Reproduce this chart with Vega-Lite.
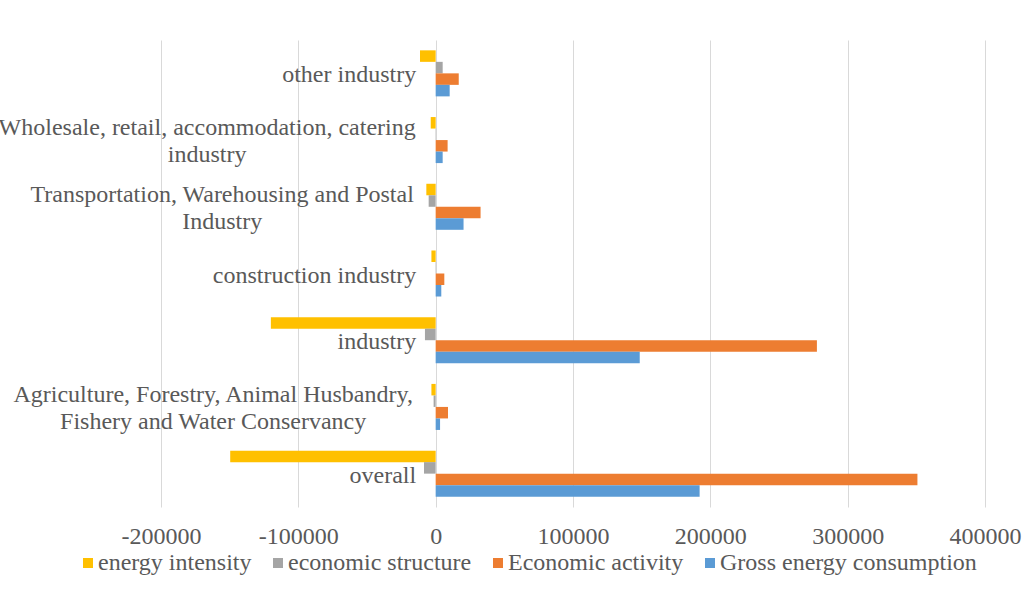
{
  "$schema": "https://vega.github.io/schema/vega-lite/v6.json",
  "autosize": {"type": "none"},
  "width": 824,
  "height": 467,
  "padding": {"left": 161, "top": 40, "right": 39, "bottom": 83},
  "background": "white",
  "config": {
    "view": {"stroke": null},
    "font": "Liberation Serif",
    "axis": {"labelFont": "Liberation Serif", "labelColor": "#595959", "labelFontSize": 24},
    "legend": {"labelFont": "Liberation Serif", "labelColor": "#595959", "labelFontSize": 24}
  },
  "data": {
    "values": [
      {"category": "other industry", "factor": "energy intensity", "value": -11400},
      {"category": "other industry", "factor": "economic structure", "value": 5100},
      {"category": "other industry", "factor": "Economic activity", "value": 16800},
      {"category": "other industry", "factor": "Gross energy consumption", "value": 10200},
      {"category": "Wholesale, retail, accommodation, catering industry", "factor": "energy intensity", "value": -3600},
      {"category": "Wholesale, retail, accommodation, catering industry", "factor": "economic structure", "value": 300},
      {"category": "Wholesale, retail, accommodation, catering industry", "factor": "Economic activity", "value": 8700},
      {"category": "Wholesale, retail, accommodation, catering industry", "factor": "Gross energy consumption", "value": 5100},
      {"category": "Transportation, Warehousing and Postal Industry", "factor": "energy intensity", "value": -6800},
      {"category": "Transportation, Warehousing and Postal Industry", "factor": "economic structure", "value": -5100},
      {"category": "Transportation, Warehousing and Postal Industry", "factor": "Economic activity", "value": 32700},
      {"category": "Transportation, Warehousing and Postal Industry", "factor": "Gross energy consumption", "value": 20300},
      {"category": "construction industry", "factor": "energy intensity", "value": -3100},
      {"category": "construction industry", "factor": "economic structure", "value": 300},
      {"category": "construction industry", "factor": "Economic activity", "value": 6300},
      {"category": "construction industry", "factor": "Gross energy consumption", "value": 4100},
      {"category": "industry", "factor": "energy intensity", "value": -120000},
      {"category": "industry", "factor": "economic structure", "value": -7800},
      {"category": "industry", "factor": "Economic activity", "value": 277600},
      {"category": "industry", "factor": "Gross energy consumption", "value": 148600},
      {"category": "Agriculture, Forestry, Animal Husbandry, Fishery and Water Conservancy", "factor": "energy intensity", "value": -3100},
      {"category": "Agriculture, Forestry, Animal Husbandry, Fishery and Water Conservancy", "factor": "economic structure", "value": -1500},
      {"category": "Agriculture, Forestry, Animal Husbandry, Fishery and Water Conservancy", "factor": "Economic activity", "value": 9000},
      {"category": "Agriculture, Forestry, Animal Husbandry, Fishery and Water Conservancy", "factor": "Gross energy consumption", "value": 3200},
      {"category": "overall", "factor": "energy intensity", "value": -149600},
      {"category": "overall", "factor": "economic structure", "value": -8500},
      {"category": "overall", "factor": "Economic activity", "value": 350800},
      {"category": "overall", "factor": "Gross energy consumption", "value": 192200}
    ]
  },
  "mark": {"type": "bar", "orient": "horizontal"},
  "encoding": {
    "y": {
      "field": "category",
      "type": "nominal",
      "sort": ["other industry", "Wholesale, retail, accommodation, catering industry", "Transportation, Warehousing and Postal Industry", "construction industry", "industry", "Agriculture, Forestry, Animal Husbandry, Fishery and Water Conservancy", "overall"],
      "scale": {"paddingInner": 0.31, "paddingOuter": 0.155},
      "axis": {
        "title": null,
        "domain": false,
        "ticks": false,
        "grid": false,
        "offset": -274.67,
        "labelLimit": 0,
        "labelFont": "Liberation Serif",
        "labelLineHeight": 27,
        "labelBaseline": "middle",
        "labelExpr": "datum.value == 'Wholesale, retail, accommodation, catering industry' ? ['Wholesale, retail, accommodation, catering', 'industry'] : datum.value == 'Transportation, Warehousing and Postal Industry' ? ['Transportation, Warehousing and Postal', 'Industry'] : datum.value == 'Agriculture, Forestry, Animal Husbandry, Fishery and Water Conservancy' ? ['Agriculture, Forestry, Animal Husbandry,', 'Fishery and Water Conservancy'] : datum.value",
        "labelAlign": {
          "condition": {"test": "indexof(datum.value, ',') >= 0", "value": "center"},
          "value": "right"
        },
        "labelOffset": {
          "condition": {"test": "indexof(datum.value, ',') >= 0", "value": -12},
          "value": 2
        },
        "labelPadding": {
          "condition": [
            {"test": "indexof(datum.value, 'Wholesale') == 0", "value": 229},
            {"test": "indexof(datum.value, 'Transportation') == 0", "value": 214},
            {"test": "indexof(datum.value, 'Agriculture') == 0", "value": 223}
          ],
          "value": 20
        }
      }
    },
    "yOffset": {
      "field": "factor",
      "type": "nominal",
      "sort": ["energy intensity", "economic structure", "Economic activity", "Gross energy consumption"]
    },
    "x": {
      "field": "value",
      "type": "quantitative",
      "scale": {"domain": [-200000, 400000], "nice": false, "zero": false},
      "axis": {
        "title": null,
        "domain": false,
        "ticks": false,
        "grid": true,
        "gridColor": "#D9D9D9",
        "gridWidth": 1,
        "values": [-200000, -100000, 0, 100000, 200000, 300000, 400000],
        "labelExpr": "'' + datum.value",
        "labelFont": "Liberation Serif",
        "labelPadding": 17,
        "labelFlush": false
      }
    },
    "color": {
      "field": "factor",
      "type": "nominal",
      "sort": ["energy intensity", "economic structure", "Economic activity", "Gross energy consumption"],
      "scale": {
        "domain": ["energy intensity", "economic structure", "Economic activity", "Gross energy consumption"],
        "range": ["#FFC000", "#A5A5A5", "#ED7D31", "#5B9BD5"]
      },
      "legend": {
        "title": null,
        "orient": "none",
        "direction": "horizontal",
        "legendX": -85,
        "legendY": 511,
        "symbolType": "square",
        "symbolSize": 100,
        "symbolStrokeWidth": 0,
        "labelFont": "Liberation Serif",
        "labelOffset": -2,
        "columnPadding": 14,
        "labelLimit": 0
      }
    }
  }
}
